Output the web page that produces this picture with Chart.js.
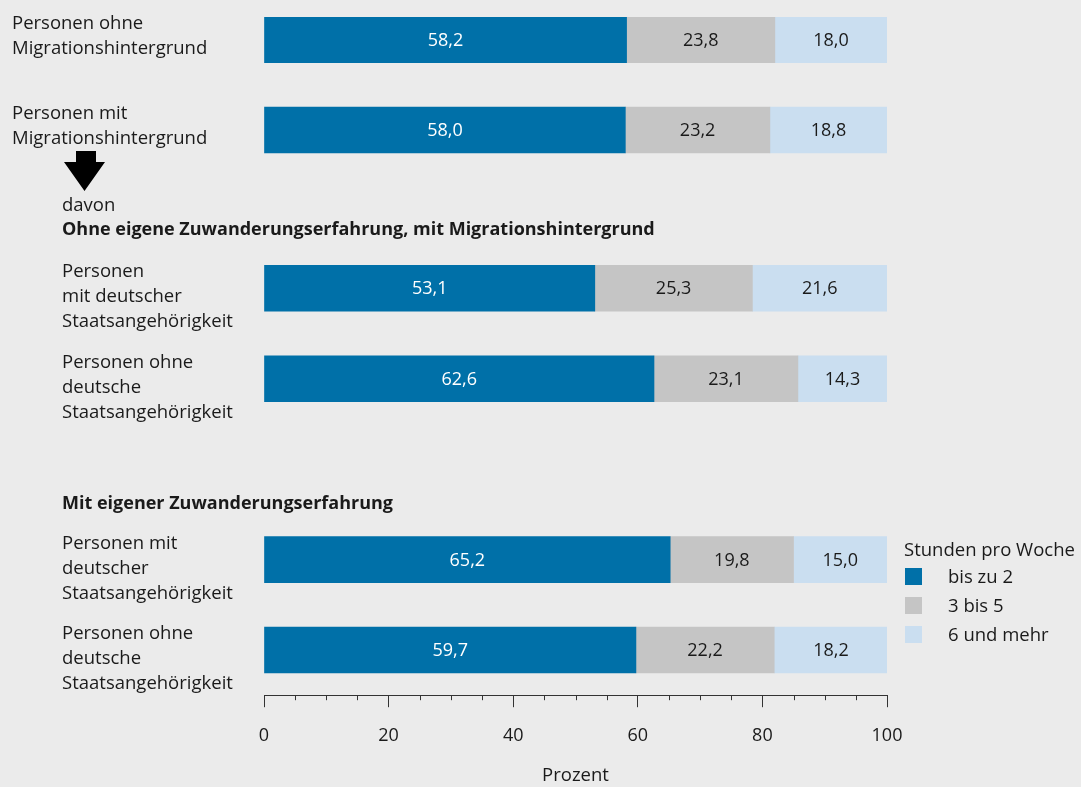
<!DOCTYPE html>
<html lang="de">
<head>
<meta charset="utf-8">
<title>Stunden pro Woche</title>
<script src="https://cdn.jsdelivr.net/npm/chart.js@4.4.1/dist/chart.umd.min.js"></script>
<style>
  html, body { margin: 0; padding: 0; background: #ebebeb; }
  #wrap { width: 1081px; height: 787px; }
</style>
</head>
<body>
<div id="wrap"><canvas id="grafik" width="1081" height="787"></canvas></div>
<script>
// Daten
const gruppen = [
    ['Personen ohne', 'Migrationshintergrund'],
    ['Personen mit', 'Migrationshintergrund'],
    ['Personen', 'mit deutscher', 'Staatsangehörigkeit'],
    ['Personen ohne', 'deutsche', 'Staatsangehörigkeit'],
    ['Personen mit', 'deutscher', 'Staatsangehörigkeit'],
    ['Personen ohne', 'deutsche', 'Staatsangehörigkeit']
];
const bisZu2 = [58.2, 58.0, 53.1, 62.6, 65.2, 59.7];
const dreiBis5 = [23.8, 23.2, 25.3, 23.1, 19.8, 22.2];
const sechsUndMehr = [18.0, 18.8, 21.6, 14.3, 15.0, 18.2];
const serienNamen = ['bis zu 2', '3 bis 5', '6 und mehr'];
const xTicks = [0, 20, 40, 60, 80, 100];

// Layout: Zeilen auf der y-Skala (Luecken fuer die Zwischenueberschriften)
const zeilenPlatz = [0, 4, 11, 15, 23, 27];
const einzug = [12, 12, 62, 62, 62, 62];
const farben = ['#0070a8', '#c5c5c5', '#cadef0'];
const schrift = "'Open Sans', sans-serif";
const textFarbe = '#1a1a1a';

const fmt = v => v.toFixed(1).replace('.', ',');
const punkte = werte => werte.map((v, i) => ({ x: v, y: zeilenPlatz[i] }));

const beschriftung = {
    id: 'beschriftung',
    afterDatasetsDraw(chart) {
        const ctx = chart.ctx;
        const y = chart.scales.y;
        const x = chart.scales.x;
        ctx.save();

        // Werte in den Balken
        ctx.font = '18px ' + schrift;
        ctx.textAlign = 'center';
        ctx.textBaseline = 'middle';
        chart.data.datasets.forEach((ds, i) => {
            chart.getDatasetMeta(i).data.forEach((bar, j) => {
                const p = bar.getCenterPoint();
                ctx.fillStyle = i === 0 ? '#ffffff' : textFarbe;
                ctx.fillText(fmt(ds.data[j].x), p.x, p.y + 1);
            });
        });

        // Gruppenbeschriftung links
        ctx.font = '18.5px ' + schrift;
        ctx.textAlign = 'left';
        ctx.textBaseline = 'alphabetic';
        ctx.fillStyle = textFarbe;
        gruppen.forEach((zeilen, i) => {
            const yc = y.getPixelForValue(zeilenPlatz[i]);
            zeilen.forEach((t, k) => ctx.fillText(t, einzug[i], yc - 11 + k * 25));
        });

        // Zwischenueberschriften
        ctx.fillText('davon', 62, y.getPixelForValue(7.56));
        ctx.font = 'bold 18px ' + schrift;
        ctx.fillText('Ohne eigene Zuwanderungserfahrung, mit Migrationshintergrund', 62, y.getPixelForValue(8.63));
        ctx.fillText('Mit eigener Zuwanderungserfahrung', 62, y.getPixelForValue(20.76));

        // Pfeil
        const top = y.getPixelForValue(zeilenPlatz[1]) + 21;
        ctx.fillStyle = '#000';
        ctx.beginPath();
        ctx.moveTo(76, top);
        ctx.lineTo(96, top);
        ctx.lineTo(96, top + 11);
        ctx.lineTo(105, top + 11);
        ctx.lineTo(84.5, top + 40);
        ctx.lineTo(64, top + 11);
        ctx.lineTo(76, top + 11);
        ctx.closePath();
        ctx.fill();

        // kleine Zwischenstriche an der x-Achse
        const b = chart.chartArea.bottom;
        ctx.strokeStyle = '#333';
        ctx.lineWidth = 1;
        for (let v = 5; v < 100; v += 5) {
            if (v % 20 === 0) continue;
            const px = Math.round(x.getPixelForValue(v)) + 0.5;
            ctx.beginPath();
            ctx.moveTo(px, b);
            ctx.lineTo(px, b + 5);
            ctx.stroke();
        }

        // Legende
        const lx = chart.chartArea.right + 17;
        ctx.fillStyle = textFarbe;
        ctx.font = '18.5px ' + schrift;
        ctx.fillText('Stunden pro Woche', lx, 556);
        chart.data.datasets.forEach((ds, i) => {
            ctx.fillStyle = ds.backgroundColor;
            ctx.fillRect(lx + 1, 568 + i * 29, 17, 17);
            ctx.fillStyle = textFarbe;
            ctx.fillText(ds.label, lx + 44, 583 + i * 29);
        });
        ctx.restore();
    }
};

new Chart(document.getElementById('grafik'), {
    type: 'bar',
    data: {
        datasets: [
            { label: serienNamen[0], data: punkte(bisZu2), backgroundColor: farben[0] },
            { label: serienNamen[1], data: punkte(dreiBis5), backgroundColor: farben[1] },
            { label: serienNamen[2], data: punkte(sechsUndMehr), backgroundColor: farben[2] }
        ]
    },
    options: {
        responsive: false,
        animation: false,
        indexAxis: 'y',
        barThickness: 46,
        layout: { padding: { left: 264, right: 194, top: 17, bottom: 0 } },
        plugins: {
            legend: { display: false },
            tooltip: { enabled: false }
        },
        scales: {
            y: {
                type: 'linear',
                reverse: true,
                offset: false,
                min: -1,
                max: 29,
                stacked: true,
                display: false
            },
            x: {
                type: 'linear',
                min: 0,
                max: 100,
                stacked: true,
                afterBuildTicks: s => { s.ticks = xTicks.map(v => ({ value: v })); },
                border: { display: true, color: '#333', width: 1 },
                grid: { drawOnChartArea: false, drawTicks: true, tickLength: 12, tickColor: '#333', color: '#333' },
                ticks: { color: textFarbe, font: { size: 18, family: schrift }, padding: 18, maxRotation: 0 },
                title: {
                    display: true, text: 'Prozent', color: textFarbe,
                    font: { size: 18.5, family: schrift }, padding: { top: 0, bottom: 0 }
                }
            }
        }
    },
    plugins: [beschriftung]
});
</script>
</body>
</html>
